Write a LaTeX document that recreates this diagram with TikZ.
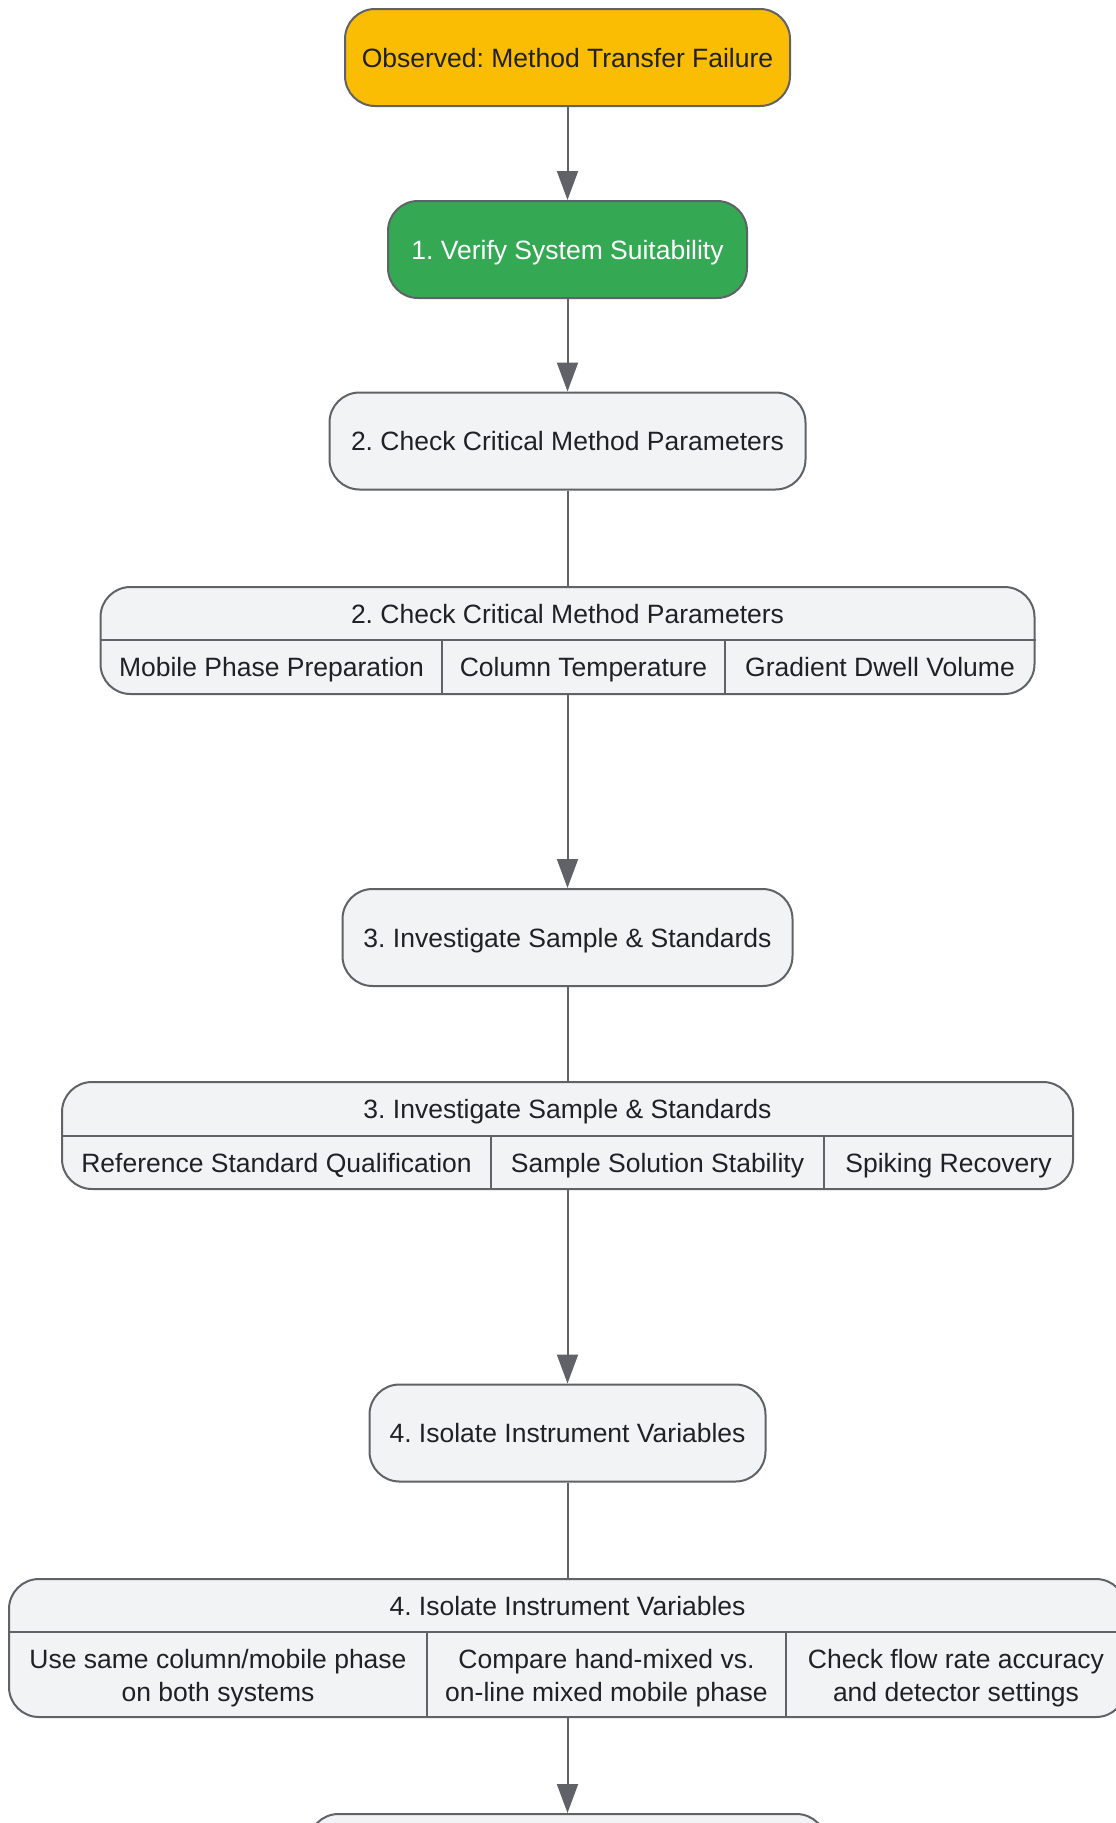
\documentclass[tikz,border=0pt]{standalone}
\usepackage{fontspec}
\setmainfont{Liberation Sans}
\usetikzlibrary{arrows.meta}
\definecolor{edgegray}{HTML}{5F6368}
\definecolor{boxgray}{HTML}{F1F3F4}
\definecolor{obsyellow}{HTML}{FBBC04}
\definecolor{okgreen}{HTML}{34A853}
\definecolor{textdark}{HTML}{202124}
\frenchspacing
\begin{document}
\begin{tikzpicture}[x=1pt,y=-1pt,
  font=\fontsize{26.5}{32.5}\selectfont, text=textdark,
  line/.style={text height=19pt, text depth=0pt},
  box/.style={line, draw=edgegray, line width=2pt, rounded corners=30pt, fill=boxgray,
    minimum height=97pt, inner sep=0pt, align=center},
  divider/.style={draw=edgegray, line width=2pt},
  link/.style={draw=edgegray, line width=2pt},
  arr/.style={link, -{Triangle[width=21pt,length=29pt]}}]
\useasboundingbox (0,0) rectangle (1116,1823);

\node[box, fill=obsyellow, minimum width=445] (obs) at (567.5,57.5) {Observed: Method Transfer Failure};
\node[box, fill=okgreen, text=white, minimum width=359] (verify) at (567.5,249.5) {1. Verify System Suitability};
\node[box, minimum width=476] (check) at (567.5,441) {2. Check Critical Method Parameters};

% record 2
\node[box, minimum width=934, minimum height=107] (checkrec) at (567.5,640.5) {};
\draw[divider] (checkrec.west |- 0,640) -- (checkrec.east |- 0,640);
\draw[divider] (442,640) -- (442,694);
\draw[divider] (725,640) -- (725,694);
\node[line] (checkhead) at (567.5,613.5) {2. Check Critical Method Parameters};
\node[line] (mobile) at (271.5,667) {Mobile Phase Preparation};
\node[line] (coltemp) at (583.5,667) {Column Temperature};
\node[line] (dwell) at (880,667) {Gradient Dwell Volume};

\node[box, minimum width=450] (invest) at (567.5,937.5) {3. Investigate Sample \& Standards};

% record 3
\node[box, minimum width=1011, minimum height=107] (investrec) at (567.5,1135.5) {};
\draw[divider] (investrec.west |- 0,1136) -- (investrec.east |- 0,1136);
\draw[divider] (491,1136) -- (491,1189);
\draw[divider] (824,1136) -- (824,1189);
\node[line] (investhead) at (567.5,1109) {3. Investigate Sample \& Standards};
\node[line] (refstd) at (276.5,1162.5) {Reference Standard Qualification};
\node[line] (stability) at (657.5,1162.5) {Sample Solution Stability};
\node[line] (spiking) at (948.5,1162.5) {Spiking Recovery};

\node[box, minimum width=396] (isolate) at (567.5,1433) {4. Isolate Instrument Variables};

% record 4
\node[box, minimum width=1117, minimum height=138] (isolrec) at (567.5,1648) {};
\draw[divider] (isolrec.west |- 0,1632) -- (isolrec.east |- 0,1632);
\draw[divider] (427,1632) -- (427,1717);
\draw[divider] (786,1632) -- (786,1717);
\node[line] (isolhead) at (567.5,1605.5) {4. Isolate Instrument Variables};
\node[align=center] (samecol) at (218,1678) {Use same column/mobile phase\\on both systems};
\node[align=center] (handmix) at (606.5,1678) {Compare hand-mixed vs.\\on-line mixed mobile phase};
\node[align=center] (flowrate) at (956,1678) {Check flow rate accuracy\\and detector settings};

\node[box, minimum width=518] (nextstep) at (567.5,1862.5) {};

\draw[arr] (obs) -- (verify);
\draw[arr] (verify) -- (check);
\draw[link] (check) -- (checkrec);
\draw[arr] (checkrec) -- (invest);
\draw[link] (invest) -- (investrec);
\draw[arr] (investrec) -- (isolate);
\draw[link] (isolate) -- (isolrec);
\draw[arr] (isolrec) -- (nextstep);
\end{tikzpicture}
\end{document}
